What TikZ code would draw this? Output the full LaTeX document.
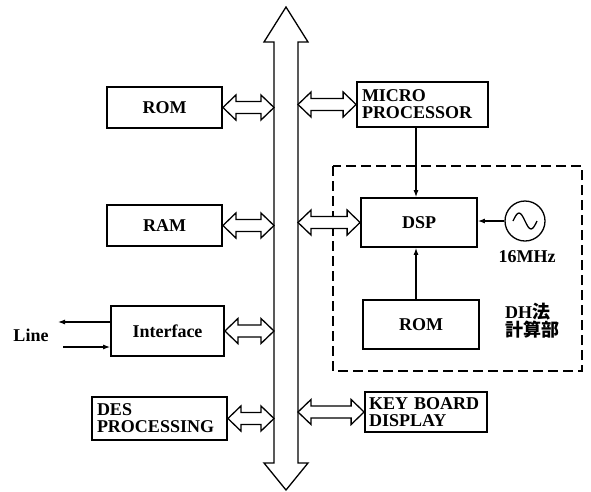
\documentclass[tikz,border=0pt]{standalone}
\usepackage{fontspec}
\setmainfont{Liberation Serif}
\newfontfamily\cjk{Noto Sans CJK JP}
\usetikzlibrary{calc,arrows.meta}

% hollow double-headed arrow between two points on the same horizontal line
\newcommand\dblarrow[2]{%
  \draw[dblarr] let \p1=(#1), \p2=(#2) in
    (\x1,\y1) -- (\x1+13pt,\y1+12.5pt) -- (\x1+13pt,\y1+6pt)
    -- (\x2-13pt,\y1+6pt) -- (\x2-13pt,\y1+12.5pt) -- (\x2,\y1)
    -- (\x2-13pt,\y1-12.5pt) -- (\x2-13pt,\y1-6pt)
    -- (\x1+13pt,\y1-6pt) -- (\x1+13pt,\y1-12.5pt) -- cycle;}

\begin{document}
\begin{tikzpicture}[x=1pt,y=-1pt,
  blk/.style={draw, line width=1.8pt, inner sep=0pt,
    font=\fontsize{18}{17}\selectfont\bfseries},
  lblk/.style={blk, align=left, inner xsep=5pt},
  dblarr/.style={draw, line width=1.3pt, fill=white, line join=miter},
  sig/.style={line width=1.1pt, -{Latex[length=7pt,width=5pt]}},
  lbl/.style={font=\fontsize{18}{17}\selectfont\bfseries, inner sep=0pt}]
\useasboundingbox (0,0) rectangle (591,491);

% system bus
\coordinate (busL) at (274,0);
\coordinate (busR) at (298,0);
\draw[line width=1.3pt, line join=miter]
  (286,7) -- (308,42) -- (298,42) -- (298,463) -- (308,463) -- (286,490)
  -- (264,463) -- (274,463) -- (274,42) -- (264,42) -- cycle;

% left-hand units
\node[blk, minimum width=115pt, minimum height=41pt] (rom1) at (164.5,107.5) {ROM};
\node[blk, minimum width=115pt, minimum height=41pt] (ram) at (164.5,225.5) {RAM};
\node[blk, minimum width=113pt, minimum height=50pt] (intf) at (167.5,331) {Interface};
\node[lblk, text width=125pt, minimum height=43pt] (des) at (159.5,418.5) {DES\\PROCESSING};

% right-hand units
\node[lblk, text width=121pt, minimum height=45pt] (mp) at (422.5,104.5) {MICRO\\PROCESSOR};
\node[blk, minimum width=116pt, minimum height=49pt] (dsp) at (419,222.5) {DSP};
\node[blk, minimum width=116pt, minimum height=49pt] (rom2) at (421,324.5) {ROM};
\node[lblk, text width=114pt, inner xsep=4pt, minimum height=40pt] (kb) at (426,412) {KEY BOARD\\DISPLAY};

% oscillator
\node[draw, circle, line width=1.3pt, minimum size=40pt, inner sep=0pt] (osc) at (525,221) {};
\draw[line width=1.3pt] (osc.center) ++(-12,0) sin ++(6,-8) cos ++(6,8) sin ++(6,8) cos ++(6,-8);
\node[lbl] (freq) at (527,257) {16MHz};

% DH computation block
\draw[line width=1.4pt, dash pattern=on 10pt off 5pt] (333,166) rectangle (582,371);
\node[lbl, anchor=west, align=left, font=\fontsize{18}{18}\selectfont\bfseries] (dh) at (505,321)
  {DH{\cjk 法}\\{\cjk 計算部}};

% bus connections
\dblarrow{rom1.east}{rom1.east -| busL}
\dblarrow{ram.east}{ram.east -| busL}
\dblarrow{intf.east}{intf.east -| busL}
\dblarrow{des.east}{des.east -| busL}
\dblarrow{mp.west -| busR}{mp.west}
\dblarrow{dsp.west -| busR}{dsp.west}
\dblarrow{kb.west -| busR}{kb.west}

% signal lines
\coordinate (vx) at (416,0);
\draw[sig] (mp.south -| vx) -- (dsp.north -| vx);
\draw[sig] (rom2.north -| vx) -- (dsp.south -| vx);
\draw[sig] (osc.west) -- (dsp.east |- osc.west);

\coordinate (lineout) at (58,322);
\coordinate (linein) at (63,347);
\draw[sig] (intf.west |- lineout) -- (lineout);
\draw[sig] (linein) -- (intf.west |- linein);
\node[lbl] (line) at (31,335) {Line};
\end{tikzpicture}
\end{document}
